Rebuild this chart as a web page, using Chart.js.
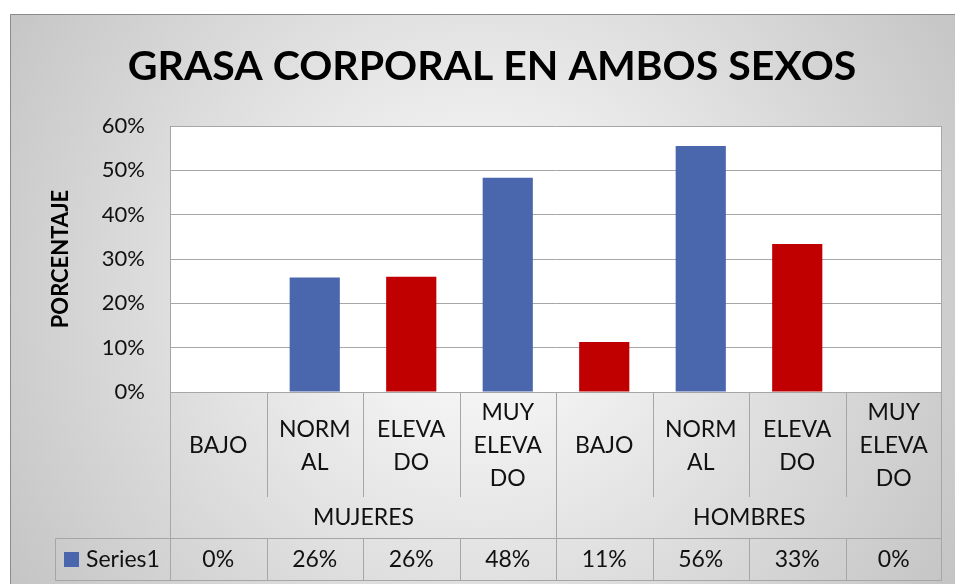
<!DOCTYPE html>
<html>
<head>
<meta charset="utf-8">
<script src="https://cdn.jsdelivr.net/npm/chart.js@4.4.1/dist/chart.umd.min.js"></script>
<style>
  html, body { margin: 0; padding: 0; background: #fff; }
</style>
</head>
<body>
<canvas id="grasa" width="955" height="584"></canvas>
<script>
// categories (two-level axis: level under group)
const levels = [["BAJO"], ["NORM", "AL"], ["ELEVA", "DO"], ["MUY", "ELEVA", "DO"],
                ["BAJO"], ["NORM", "AL"], ["ELEVA", "DO"], ["MUY", "ELEVA", "DO"]];
const groups = ["MUJERES", "HOMBRES"];
const groupSize = 4;
const series1 = [0, 0.258, 0.26, 0.483, 0.113, 0.555, 0.334, 0];
const barColors = ["#C00000", "#4A66AC", "#C00000", "#4A66AC",
                   "#C00000", "#4A66AC", "#C00000", "#4A66AC"];
const yMax = 0.6;
const yStep = 0.1;

const FONT = "Lato";
const lineCol = "#a6a6a6";

function pct(v) {
  return Math.round(v * 100) + "%";
}

const backdrop = {
  id: "backdrop",
  beforeDraw(chart) {
    const ctx = chart.ctx;
    const a = chart.chartArea;
    ctx.save();
    ctx.fillStyle = "#fff";
    ctx.fillRect(0, 0, chart.width, chart.height);
    const g = ctx.createRadialGradient(480, 290, 0, 480, 290, 560);
    g.addColorStop(0, "#ffffff");
    g.addColorStop(1, "#c4c4c4");
    ctx.fillStyle = g;
    ctx.fillRect(10, 14, chart.width - 10, chart.height - 14);
    ctx.strokeStyle = "#8c8c8c";
    ctx.lineWidth = 1;
    ctx.beginPath();
    ctx.moveTo(10.5, chart.height);
    ctx.lineTo(10.5, 14.5);
    ctx.lineTo(chart.width, 14.5);
    ctx.stroke();
    // plot area
    ctx.fillStyle = "#fff";
    ctx.fillRect(a.left, a.top, a.right - a.left, a.bottom - a.top);
    ctx.restore();
  },
  afterDraw(chart) {
    const ctx = chart.ctx;
    const a = chart.chartArea;
    const x = chart.scales.x;
    const n = levels.length;
    const half = (x.getPixelForValue(1) - x.getPixelForValue(0)) / 2;
    const edge = (i) => Math.round(x.getPixelForValue(i) - half) + 0.5;
    const labelBottom = 497, rowTop = 538.5, rowBottom = 580.5, legendLeft = 55.5;

    ctx.save();
    // title
    ctx.fillStyle = "#000";
    ctx.font = "bold 41px " + FONT;
    ctx.textAlign = "center";
    ctx.textBaseline = "middle";
    ctx.fillText("GRASA CORPORAL EN AMBOS SEXOS", 492, 67);

    // plot area right border
    ctx.strokeStyle = lineCol;
    ctx.lineWidth = 1;
    ctx.beginPath();
    ctx.moveTo(Math.round(a.right) - 0.5, a.top);
    ctx.lineTo(Math.round(a.right) - 0.5, a.bottom);
    ctx.stroke();

    // table lines
    ctx.beginPath();
    for (let i = 0; i <= n; i++) {
      const xx = i === n ? Math.round(a.right) - 0.5 : edge(i);
      const full = i % groupSize === 0;
      ctx.moveTo(xx, a.bottom);
      ctx.lineTo(xx, full ? rowBottom : labelBottom);
      if (!full) {
        ctx.moveTo(xx, rowTop);
        ctx.lineTo(xx, rowBottom);
      }
    }
    ctx.moveTo(legendLeft, rowTop);
    ctx.lineTo(a.right, rowTop);
    ctx.moveTo(legendLeft, rowBottom);
    ctx.lineTo(a.right, rowBottom);
    ctx.moveTo(legendLeft, rowTop);
    ctx.lineTo(legendLeft, rowBottom);
    ctx.stroke();

    // group labels
    ctx.fillStyle = "#111";
    ctx.font = "23px " + FONT;
    groups.forEach(function (g, k) {
      const l = edge(k * groupSize);
      const r = k === groups.length - 1 ? a.right : edge((k + 1) * groupSize);
      ctx.fillText(g, (l + r) / 2, 518);
    });

    // data row
    series1.forEach(function (v, i) {
      ctx.fillText(pct(v), x.getPixelForValue(i), 560);
    });

    // legend key
    ctx.fillStyle = "#4A66AC";
    ctx.fillRect(64, 552, 15, 15);
    ctx.fillStyle = "#111";
    ctx.textAlign = "left";
    ctx.fillText("Series1", 86, 560);
    ctx.restore();
  }
};

new Chart(document.getElementById("grasa"), {
  type: "bar",
  data: {
    labels: levels,
    datasets: [
      {
        label: "Series1",
        data: series1,
        backgroundColor: barColors,
        barPercentage: 0.52,
        categoryPercentage: 1
      }
    ]
  },
  options: {
    responsive: false,
    animation: false,
    layout: {
      padding: { left: 10, right: 13, top: 126, bottom: 4 }
    },
    plugins: {
      legend: { display: false },
      title: { display: false },
      tooltip: { enabled: false }
    },
    scales: {
      x: {
        grid: { display: false, drawTicks: false },
        border: { display: false },
        ticks: {
          autoSkip: false,
          maxRotation: 0,
          minRotation: 0,
          crossAlign: "center",
          padding: 21,
          color: "#111",
          font: { family: FONT, size: 23, lineHeight: 1.435 }
        },
        afterFit: function (s) {
          s.height = 188;
        }
      },
      y: {
        min: 0,
        max: yMax,
        ticks: {
          stepSize: yStep,
          padding: 25,
          color: "#111",
          font: { family: FONT, size: 22 },
          callback: function (v) {
            return pct(v);
          }
        },
        grid: { color: lineCol, drawTicks: false },
        border: { display: true, color: lineCol },
        title: {
          display: true,
          text: "PORCENTAJE",
          color: "#000",
          padding: { top: 38 },
          font: { family: FONT, size: 22, weight: "bold" }
        },
        afterFit: function (s) {
          s.width = 160;
        }
      }
    }
  },
  plugins: [backdrop]
});
</script>
</body>
</html>
